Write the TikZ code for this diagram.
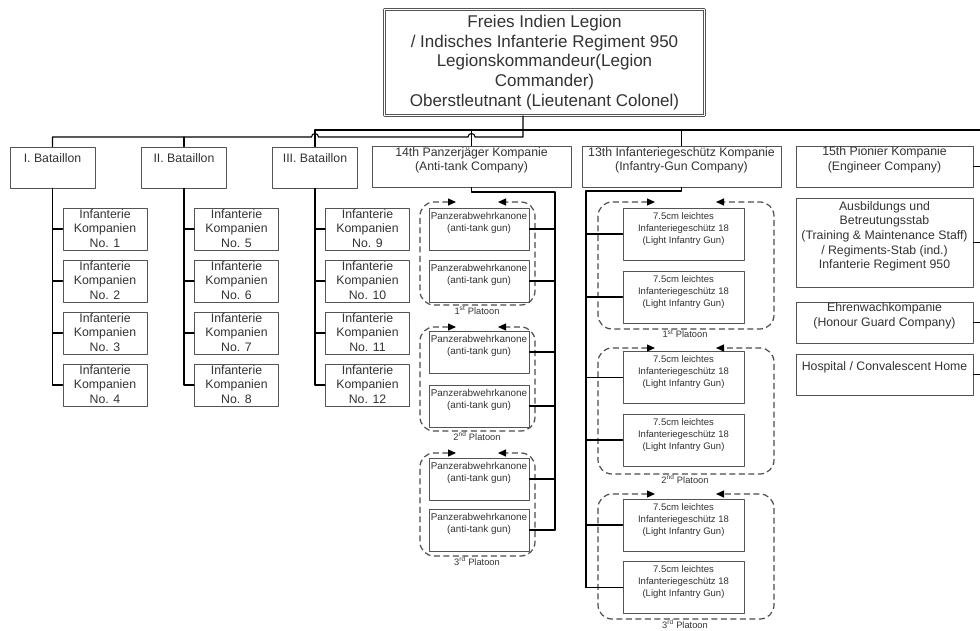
\documentclass[tikz,border=0pt]{standalone}
\usepackage{fontspec}
\setmainfont{Liberation Sans}
\usetikzlibrary{arrows.meta}
\definecolor{boxgray}{rgb}{0.33,0.33,0.33}
\definecolor{txtgray}{rgb}{0.2,0.2,0.2}
\definecolor{dashgray}{rgb}{0.3,0.3,0.3}

\begin{document}
\begin{tikzpicture}[line cap=round,line join=round,x=1pt,y=-1pt,
  box/.style={draw=boxgray,line width=0.9pt,inner sep=0,fill=white},
  lbl/.style={text=txtgray,align=center,inner sep=0,anchor=north},
  bigf/.style={font=\fontsize{12.3}{14.6}\selectfont},
  gunf/.style={font=\fontsize{9.9}{12}\selectfont},
  ligf/.style={font=\fontsize{9.5}{12}\selectfont},
  wire/.style={draw=black,line width=1.1pt},
  platoon/.style={draw=dashgray,line width=1.2pt,line cap=butt,dash pattern=on 6pt off 3.5pt,rounded corners=14pt,
    {Triangle[length=8pt,width=7pt,color=black]}-{Triangle[length=8pt,width=7pt,color=black]}},
  plbl/.style={text=txtgray,font=\fontsize{9.3}{10}\selectfont,inner sep=0}]
\useasboundingbox (0,0) rectangle (980,631);
% legion head
\node[box,double=white,double distance=1.6pt,line width=0.8pt,minimum width=320,minimum height=106,
  text=txtgray,align=center,font=\fontsize{17}{19.6}\selectfont] (legion) at (544.5,62.5)
  {Freies Indien Legion\\/ Indisches Infanterie Regiment 950\\Legionskommandeur(Legion\\Commander)\\Oberstleutnant (Lieutenant Colonel)};
% battalions
\foreach \n/\x/\t in {1/52.5/I.,2/184/II.,3/315/III.}{
  \node[box,minimum width=85,minimum height=41,label={[lbl,bigf,yshift=-6.8pt]north:\t\ Bataillon}] (bat\n) at (\x,167.5) {};
  \foreach \m in {1,...,4}{
    \pgfmathtruncatemacro\k{4*(\n-1)+\m}
    \node[box,minimum width=84,minimum height=42,label={[lbl,bigf,yshift=-1.5pt]north:Infanterie\\Kompanien\\No. \k}] (kp\k) at ({\x+52.5},{229+52*(\m-1)}) {};
    \draw[wire] (bat\n.south) |- (kp\k.west);
  }
}
% 14th company
\node[box,minimum width=199,minimum height=41,label={[lbl,bigf,yshift=-1.5pt]north:14th Panzerjäger Kompanie\\(Anti-tank Company)}] (pzj) at (471.5,166.5) {};
\coordinate (pzjbus) at (555,192);
\foreach \p/\ya/\yb/\top/\bot in {1/229/281/202/305,2/352/406/327/431,3/479/530/453/556}{
  \node[box,minimum width=100,minimum height=42,label={[lbl,gunf,yshift=-5pt]north:Panzerabwehrkanone\\(anti-tank gun)}] (pakA\p) at (479,\ya) {};
  \node[box,minimum width=100,minimum height=42,label={[lbl,gunf,yshift=-5pt]north:Panzerabwehrkanone\\(anti-tank gun)}] (pakB\p) at (479,\yb) {};
  \draw[platoon] (456,\top) -- (420,\top) -- (420,\bot) -- (535,\bot) -- (535,\top) -- (498,\top);
  \node[plbl] (pkl\p) at (477,{\bot+5.5}) {\ifcase\p\or 1\textsuperscript{st}\or 2\textsuperscript{nd}\or 3\textsuperscript{rd}\fi\ Platoon};
  \draw[wire] (pakA\p.east) -- (pakA\p.east -| pzjbus);
  \draw[wire] (pakB\p.east) -- (pakB\p.east -| pzjbus);
}
\draw[wire] (pzj.south) |- (pzjbus) -- (pzjbus |- pakB3.east);
% 13th company
\node[box,minimum width=199,minimum height=41,label={[lbl,bigf,yshift=-1.5pt]north:13th Infanteriegeschütz Kompanie\\(Infantry-Gun Company)}] (ig) at (681.5,166.5) {};
\coordinate (igbus) at (586,191);
\foreach \p/\ya/\yb/\top/\bot in {1/234/297/202/329,2/377.5/440/348/474,3/525/587.5/494/619}{
  \node[box,minimum width=121,minimum height=52,label={[lbl,ligf,yshift=-4.7pt]north:7.5cm leichtes\\Infanteriegeschütz 18\\(Light Infantry Gun)}] (ligA\p) at (683.5,\ya) {};
  \node[box,minimum width=121,minimum height=52,label={[lbl,ligf,yshift=-4.7pt]north:7.5cm leichtes\\Infanteriegeschütz 18\\(Light Infantry Gun)}] (ligB\p) at (683.5,\yb) {};
  \draw[platoon] (655,\top) -- (598,\top) -- (598,\bot) -- (774,\bot) -- (774,\top) -- (716,\top);
  \node[plbl] (ikl\p) at (685,{\bot+5}) {\ifcase\p\or 1\textsuperscript{st}\or 2\textsuperscript{nd}\or 3\textsuperscript{rd}\fi\ Platoon};
  \draw[wire] (ligA\p.west -| igbus) -- (ligA\p.west);
  \draw[wire] (ligB\p.west -| igbus) -- (ligB\p.west);
}
\draw[wire] (ig.south) |- (igbus) -- (igbus |- ligB3.west);
% right column
\coordinate (rbus) at (980,130);
\node[box,minimum width=177,minimum height=41,label={[lbl,bigf,yshift=-1.3pt]north:15th Pionier Kompanie\\(Engineer Company)}] (pio) at (884.5,166.5) {};
\node[box,minimum width=177,minimum height=89,label={[lbl,bigf,yshift=-3.6pt]north:Ausbildungs und\\Betreutungsstab\\(Training \& Maintenance Staff)\\/ Regiments-Stab (ind.)\\Infanterie Regiment 950}] (stab) at (884.5,242.5) {};
\node[box,minimum width=177,minimum height=41,label={[lbl,bigf,yshift=-1.3pt]north:Ehrenwachkompanie\\(Honour Guard Company)}] (ehren) at (884.5,322.5) {};
\node[box,minimum width=177,minimum height=41,label={[lbl,bigf,yshift=-8.3pt]north:Hospital / Convalescent Home}] (hosp) at (884.5,374.5) {};
\foreach \b in {pio,stab,ehren,hosp}
  \draw[wire] (\b.east) -- (\b.east -| rbus);
% top buses
\coordinate (busA) at (523,137);
\coordinate (busB) at (315,130);
\draw[wire] (legion.south -| busA) -- (busA) -- (475,137) arc[start angle=0,end angle=-180,radius=3.5]
  -- (318.5,137) arc[start angle=0,end angle=-180,radius=3.5] -- (bat1.north |- busA) -- (bat1.north);
\draw[wire] (bat2.north |- busA) -- (bat2.north);
\draw[wire] (rbus) -- (busB) -- (bat3.north);
\draw[wire] (pzj.north |- busB) -- (pzj.north);
\draw[wire] (ig.north |- busB) -- (ig.north);
\end{tikzpicture}
\end{document}
